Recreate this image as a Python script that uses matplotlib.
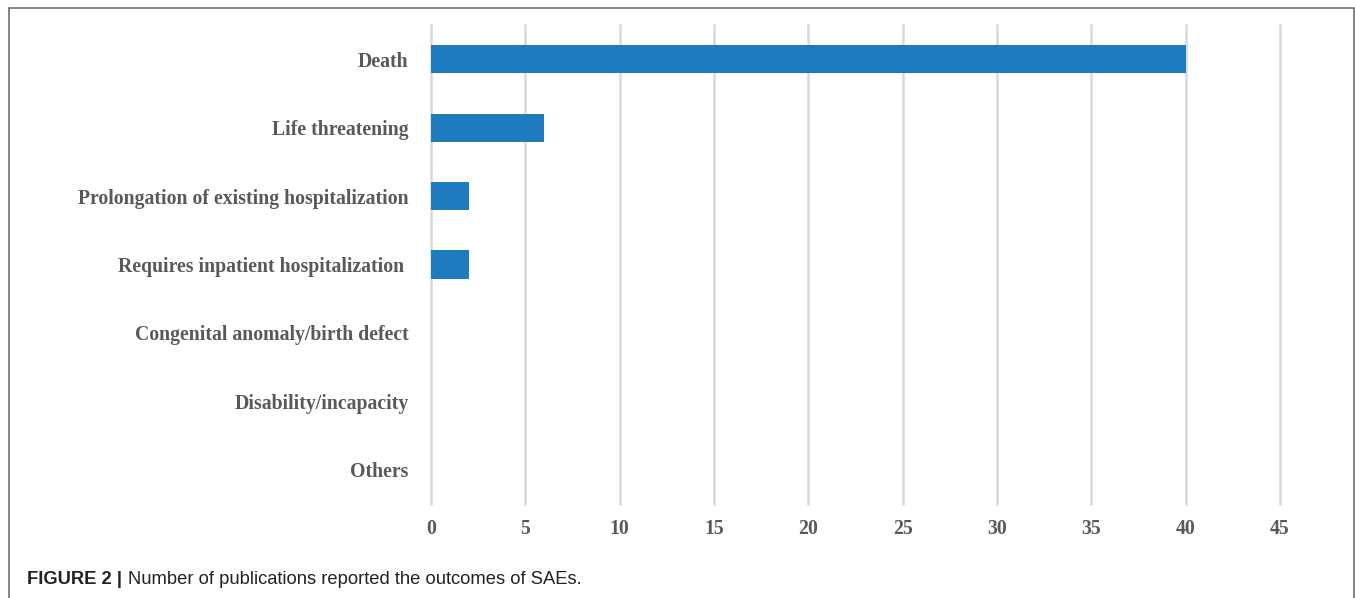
"""Horizontal bar chart: number of publications reporting SAE outcomes."""
import matplotlib.pyplot as plt
from matplotlib.patches import Rectangle

outcomes = [
    "Death",
    "Life threatening",
    "Prolongation of existing hospitalization",
    "Requires inpatient hospitalization ",
    "Congenital anomaly/birth defect",
    "Disability/incapacity",
    "Others",
]
publications = [40, 6, 2, 2, 0, 0, 0]
x_ticks = [0, 5, 10, 15, 20, 25, 30, 35, 40, 45]

W, H = 1355, 598
fig = plt.figure(figsize=(W / 100, H / 100), dpi=100)
ax = fig.add_axes([431 / W, 1 - 504 / H, (1280 - 431) / W, (504 - 25) / H])

y = list(range(len(outcomes)))
ax.barh(y, publications, height=0.41, color="#1F7BBF", zorder=3)
ax.set_ylim(len(outcomes) - 0.5, -0.5)
ax.set_xlim(0, 45)
ax.set_xticks(x_ticks)
ax.set_yticks(y)

label_font = dict(family="Liberation Serif", weight="bold", color="#595959")
ax.set_yticklabels(outcomes, fontsize=14.2, **label_font)
ax.set_xticklabels([str(t) for t in x_ticks], fontsize=14.2, **label_font)
ax.tick_params(axis="both", length=0)
ax.tick_params(axis="y", pad=16)
ax.tick_params(axis="x", pad=11)

ax.grid(axis="x", color="#D9D9D9", linewidth=1.8, zorder=0)
for gl in ax.get_xgridlines():
    gl.set_clip_on(False)
for s in ax.spines.values():
    s.set_visible(False)

# frame around the figure (open at the bottom)
fig.add_artist(Rectangle((9 / W, -0.05), (1354 - 9) / W, 1.05 - 8 / H,
                         transform=fig.transFigure, fill=False,
                         edgecolor="#6E6E6E", linewidth=1.2))

cap_y = 1 - 580 / H
t = fig.text(27 / W, cap_y, "FIGURE 2 |", family="Liberation Sans",
             weight="bold", fontsize=13.2, va="center", color="#222222")
fig.canvas.draw()
bb = t.get_window_extent()
fig.text((bb.x1 + 6) / W, cap_y, "Number of publications reported the outcomes of SAEs.",
         family="Liberation Sans", fontsize=13.2, va="center", color="#222222")

fig.savefig("out.png", dpi=100)
